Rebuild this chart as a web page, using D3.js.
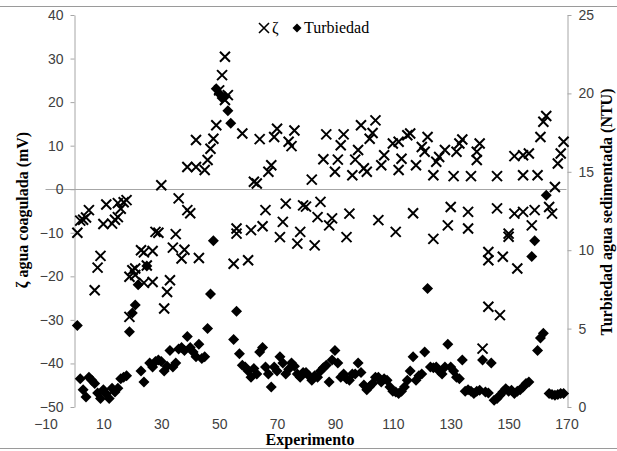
<!DOCTYPE html>
<html>
<head>
<meta charset="utf-8">
<script src="https://cdn.jsdelivr.net/npm/d3@7"></script>
<style>
  body { margin: 0; background: #fff; }
  .tick text { font-family: "Liberation Sans", Arial, sans-serif; font-size: 14px; fill: #404040; }
  .ttl { font-family: "Liberation Serif", "Times New Roman", serif; font-weight: bold; font-size: 16px; fill: #000; }
</style>
</head>
<body>
<svg width="617" height="451"></svg>
<script>
// zeta potential of coagulated water (mV), per experiment
const zetaExp = [1,2,3,4,5,7,8,9,10,11,13,14,15,15,16,17,18,19,19,20,21,21,23,24,24,25,27,27,28,29,
  30,31,32,33,34,35,36,37,38,39,40,39,42,42,43,45,46,47,48,49,50,51,52,53,52,55,56,56,58,60,
  61,62,63,64,65,66,67,68,69,70,71,72,73,74,75,76,77,78,79,80,82,83,84,85,86,87,88,89,90,91,
  92,93,94,95,96,97,98,99,100,101,102,103,104,105,106,107,110,111,112,112,113,115,116,117,118,120,121,122,124,124,
  125,126,128,129,130,131,132,133,134,136,136,137,139,139,140,141,143,143,143,146,146,147,148,150,150,152,152,153,155,155,
  155,157,158,159,160,161,162,163,164,165,166,167,168,169];
const zetaVal = [-10,-7.2,-7,-6.5,-4.8,-23.2,-18,-15.3,-8,-3.5,-7.9,-7,-6.4,-3.2,-4.5,-3,-2.5,-29.3,-20.1,-18.6,-18.2,-19.7,-14,-21.5,-14.5,-17.5,-14.2,-21.3,-9.8,-10,
  0.9,-27.4,-23.6,-20.9,-13.4,-10.3,-2.1,-15.9,-13.9,-4.8,-5.5,5.1,11.3,5.1,-15.8,4.4,6.7,9.3,11.6,14.7,22.7,26.2,30.4,21.6,20.5,-17.1,-9,-10.2,12.8,-16.3,
  -9.4,1.7,1.3,11.5,-8.5,-4.8,4,5.5,12,13.9,-11,-7.5,-3.3,10.9,9.9,13.5,-12.5,-9.8,-3.7,-4,2.2,-12.9,-6.4,-2.9,6.9,12.6,-8.3,-6.7,4,6.8,
  10.1,12.6,-11,-5.6,3.2,6.8,9,14.7,4.8,4,11.6,12.9,15.8,-7.1,5.5,7.8,10.5,-9.8,10.9,4.4,7,12.4,12.8,-5.5,5.5,9.7,8.6,12,-11.4,3.2,
  6.3,7.4,9,-8.3,-4.1,3,8.6,10.5,11.4,-9,-5.2,3,6.7,8.6,10.5,-36.6,-27,-14.4,-16.3,-4.4,3,-28.9,-15.5,-10.2,-10.9,-5.6,7.6,-18.2,-5.2,7.8,
  3.2,8.2,-8.3,-4.8,3.2,12,15.5,16.8,-4.1,-5.6,0.5,5.9,8.2,10.9];

// settled water turbidity (NTU), per experiment
const turbExp = d3.range(1, 170);
const turbVal = [5.2,1.8,1.1,0.64,1.9,1.7,1.5,0.9,0.55,1.1,0.85,0.55,1.2,0.95,1.2,1.8,1.9,2.0,4.8,6.0,
  6.5,7.8,2.3,1.6,9.0,2.8,2.55,2.9,3.0,2.9,2.3,2.6,3.6,2.55,2.8,3.7,3.8,3.6,4.5,3.8,
  3.5,3.2,4.0,3.1,3.2,5.0,7.2,10.6,20.3,20.0,19.7,19.8,18.9,18.1,4.3,6.1,3.4,2.66,2.55,2.3,
  1.9,2.45,2.1,3.5,3.8,2.55,2.1,1.28,2.55,2.3,3.2,2.8,2.1,2.4,2.8,2.6,2.1,1.9,2.2,2.2,
  2.0,1.7,2.0,1.9,2.3,2.5,2.66,1.6,3.0,3.6,2.8,1.9,2.1,1.8,1.7,2.1,2.1,2.8,2.2,1.4,
  1.1,1.3,1.5,1.9,1.9,1.6,1.8,1.7,1.28,1.0,0.96,0.86,1.0,1.28,1.7,2.3,3.2,1.7,2.0,2.1,
  3.5,7.55,2.55,2.5,2.55,2.3,2.1,2.55,4.0,2.55,2.3,1.9,1.8,3.0,1.0,1.1,1.0,0.86,1.0,1.07,
  3.0,0.96,0.9,2.8,0.43,0.54,0.75,0.96,1.17,1.0,1.07,0.86,1.0,1.1,1.28,1.5,1.6,9.6,10.6,3.6,
  4.4,4.7,13.5,0.86,0.8,0.75,0.8,0.86,0.86];

const xTicks = d3.range(-10, 171, 20);
const zetaTicks = d3.range(-50, 41, 10);
const turbTicks = d3.range(0, 26, 5);

const svg = d3.select("svg");

const x = d3.scaleLinear().domain([-10, 170]).range([45.5, 566.5]);
const yL = d3.scaleLinear().domain([-50, 40]).range([407, 15]);
const yR = d3.scaleLinear().domain([0, 25]).range([407, 15]);

// chart area frame
svg.append("line").attr("x1", 0).attr("x2", 617).attr("y1", 6.5).attr("y2", 6.5).attr("stroke", "#9a9a9a");
svg.append("line").attr("x1", 0).attr("x2", 617).attr("y1", 448.5).attr("y2", 448.5).attr("stroke", "#9a9a9a");

// horizontal axis line at zeta = 0
svg.append("line")
  .attr("x1", x(-10)).attr("x2", x(170))
  .attr("y1", Math.round(yL(0)) + 0.5).attr("y2", Math.round(yL(0)) + 0.5)
  .attr("stroke", "#a6a6a6");

const gl = svg.append("g")
  .attr("transform", "translate(" + (Math.round(x(0)) + 0.5) + ",0)")
  .call(d3.axisLeft(yL).tickValues(zetaTicks).tickSize(4).tickPadding(7).tickSizeOuter(0));
const gr = svg.append("g")
  .attr("transform", "translate(" + (Math.round(x(170)) + 0.5) + ",0)")
  .call(d3.axisRight(yR).tickValues(turbTicks).tickSize(4).tickPadding(7).tickSizeOuter(0));
const gb = svg.append("g")
  .attr("transform", "translate(0,407)")
  .call(d3.axisBottom(x).tickValues(xTicks).tickSize(0).tickPadding(12));
gb.select(".domain").remove();
[gl, gr].forEach(g => {
  g.select(".domain").attr("stroke", "#a6a6a6");
  g.selectAll(".tick line").attr("stroke", "#a6a6a6");
});

// markers
const r = 5.5;
const diamond = "M0," + (-r) + "L" + r + ",0L0," + r + "L" + (-r) + ",0Z";
const cross = "M-5,-5L5,5M-5,5L5,-5";

svg.append("g").selectAll("path")
  .data(turbExp.map((e, i) => ({ e: e, v: turbVal[i] })))
  .enter().append("path")
  .attr("transform", d => "translate(" + x(d.e) + "," + yR(d.v) + ")")
  .attr("d", diamond)
  .attr("fill", "#000");

svg.append("g").selectAll("path")
  .data(zetaExp.map((e, i) => ({ e: e, v: zetaVal[i] })))
  .enter().append("path")
  .attr("transform", d => "translate(" + x(d.e) + "," + yL(d.v) + ")")
  .attr("d", cross)
  .attr("stroke", "#000")
  .attr("stroke-width", 2)
  .attr("fill", "none");

// legend
const lg = svg.append("g").attr("transform", "translate(264,28)");
lg.append("path").attr("d", "M-5,-5L5,5M-5,5L5,-5").attr("stroke", "#000").attr("stroke-width", 1.6);
lg.append("text").attr("x", 8).attr("y", 5).attr("font-family", "Liberation Serif, serif").attr("font-size", 16).text("ζ");
lg.append("path").attr("transform", "translate(33,0)").attr("d", "M0,-4.5L4.5,0L0,4.5L-4.5,0Z").attr("fill", "#000");
lg.append("text").attr("x", 40).attr("y", 5).attr("font-family", "Liberation Serif, serif").attr("font-size", 16).text("Turbiedad");

// axis titles
svg.append("text").attr("class", "ttl").attr("text-anchor", "middle")
  .attr("x", 310).attr("y", 445).text("Experimento");
svg.append("text").attr("class", "ttl").attr("text-anchor", "middle")
  .attr("transform", "translate(28,210) rotate(-90)").text("ζ agua coagulada (mV)");
svg.append("text").attr("class", "ttl").attr("text-anchor", "middle")
  .attr("transform", "translate(612,212) rotate(-90)").text("Turbiedad agua sedimentada (NTU)");
</script>
</body>
</html>
